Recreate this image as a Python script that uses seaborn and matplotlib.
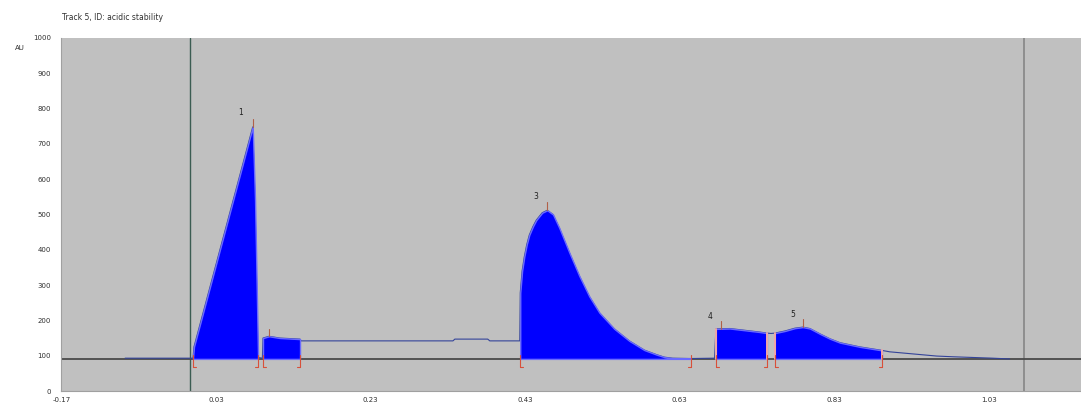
import numpy as np
import pandas as pd
import matplotlib
matplotlib.use("Agg")
import matplotlib.pyplot as plt
import seaborn as sns

# ---- data ----
trace_x = [-0.0876, -0.0036, 0.0002, 0.0015, 0.0775, 0.0805, 0.0844, 0.0900,
           0.0908, 0.0986, 0.1128, 0.1387, 0.1400, 0.3365, 0.3390, 0.3815, 0.3842,
           0.4230, 0.4236, 0.4260, 0.4288, 0.4320, 0.4353, 0.4400, 0.4443, 0.4520,
           0.4586, 0.4660, 0.4741, 0.4871, 0.5000, 0.5129, 0.5259, 0.5453, 0.5647,
           0.5841, 0.6000, 0.6100, 0.6204,
           0.6442, 0.6750, 0.6767, 0.6948, 0.7142, 0.7336, 0.7427, 0.7480, 0.7530,
           0.7659, 0.7789, 0.7892, 0.7983, 0.8112, 0.8242, 0.8371, 0.8630, 0.8889,
           0.8915, 0.9015, 0.9623, 0.9830, 1.0347, 1.0541, 1.0567]
trace_y = [93, 93, 93, 125, 748, 541, 95, 93,
           150, 155, 150, 147, 142, 142, 147, 147, 142,
           142, 278, 340, 380, 415, 442, 466, 484, 505,
           512, 500, 462, 392, 326, 268, 222, 176, 142,
           116, 103, 96, 93,
           92, 93, 176, 177, 172, 167, 164, 163, 164,
           170, 178, 181, 177, 162, 148, 137, 125, 116,
           115, 111, 99, 97, 93, 91, 91]
peak_ids = ["1", "2", "3", "4", "5"]
peak_start = [0.0002, 0.0908, 0.4236, 0.6767, 0.7530]
peak_end = [0.0844, 0.1387, 0.6442, 0.7427, 0.8915]
peak_apex_x = [0.0775, 0.0986, 0.4586, 0.6830, 0.7892]
label_x = [0.0620, None, 0.4440, 0.6690, 0.7760]
label_y = [790, None, 552, 212, 218]
baseline_level = 91
x_ticks = [-0.17, 0.03, 0.23, 0.43, 0.63, 0.83, 1.03]
y_ticks = [0, 100, 200, 300, 400, 500, 600, 700, 800, 900, 1000]
marker_lines = [-0.0036, 1.075]
title_text = "Track 5, ID: acidic stability"

df = pd.DataFrame({"x": trace_x, "y": trace_y})
tx = np.array(trace_x)
ty = np.array(trace_y, dtype=float)

sns.set_style("white")
fig = plt.figure(figsize=(10.81, 4.05), dpi=100)
ax = fig.add_axes([61.4 / 1081, 1 - 391 / 405, 1 - 61.4 / 1081, (391 - 38) / 405])
ax.set_facecolor("#c0c0c0")

ax.set_xlim(-0.17, -0.17 + 1019.6 / 773)
ax.set_ylim(0, 1000)

# baseline
ax.axhline(baseline_level, color="#4a4a4a", lw=1.3, zorder=2)

# trace line (under the fills)
sns.lineplot(data=df, x="x", y="y", ax=ax, color="#34449a", lw=0.8,
             zorder=2.5, estimator=None, sort=False)

# peak fills
red = "#d8503a"
for pid, s, e in zip(peak_ids, peak_start, peak_end):
    m = (tx >= s - 1e-9) & (tx <= e + 1e-9)
    ax.fill_between(tx[m], baseline_level, ty[m], color="#0000ff",
                    edgecolor="#6a6aff", lw=1.0, zorder=3)

# boundary brackets and apex ticks
for i, (s, e) in enumerate(zip(peak_start, peak_end)):
    for j, b in enumerate((s, e)):
        yv = np.interp(b, tx, ty)
        if i in (3, 4):
            ax.plot([b, b], [baseline_level, yv], color="#f0a8a8", lw=1.4, zorder=5)
        ax.plot([b, b], [baseline_level - 24, baseline_level + 10], color=red,
                lw=0.8, zorder=5)
        hook = 0.004 if j == 0 else -0.004
        ax.plot([b, b + hook], [baseline_level - 24, baseline_level - 24],
                color=red, lw=0.8, zorder=5)
    ax_x = peak_apex_x[i]
    ay = np.interp(ax_x, tx, ty)
    ax.plot([ax_x, ax_x], [ay, ay + 22], color="#b06048", lw=0.8, zorder=5)
    if label_x[i] is not None:
        ax.text(label_x[i], label_y[i], peak_ids[i], fontsize=5.5,
                color="#202020", ha="center", va="center")

# vertical markers
ax.axvline(marker_lines[0], color="#3b5c52", lw=1.0, zorder=1)
ax.axvline(marker_lines[1], color="#8e8e8e", lw=1.4, zorder=1)

ax.set_xticks(x_ticks)
ax.set_xticklabels([f"{v:.2f}" for v in x_ticks])
ax.set_yticks(y_ticks)
ax.set_yticklabels([str(v) for v in y_ticks])
ax.tick_params(axis="both", labelsize=5, colors="#505050", labelcolor="#303030",
               direction="out", width=0.8)
ax.tick_params(axis="y", length=6, pad=1.5)
ax.tick_params(axis="x", length=3, pad=1.5)
ax.set_xlabel("")
ax.set_ylabel("")
for side in ("top", "right"):
    ax.spines[side].set_visible(False)
for side in ("left", "bottom"):
    ax.spines[side].set_color("#a0a0a0")
    ax.spines[side].set_linewidth(0.8)

fig.text(15 / 1081, 1 - 48 / 405, "AU", fontsize=5, color="#303030", ha="left", va="center")
fig.text(62 / 1081, 1 - 18 / 405, title_text, fontsize=5.5, color="#303030",
         ha="left", va="center")

fig.savefig("out.png", dpi=100)
